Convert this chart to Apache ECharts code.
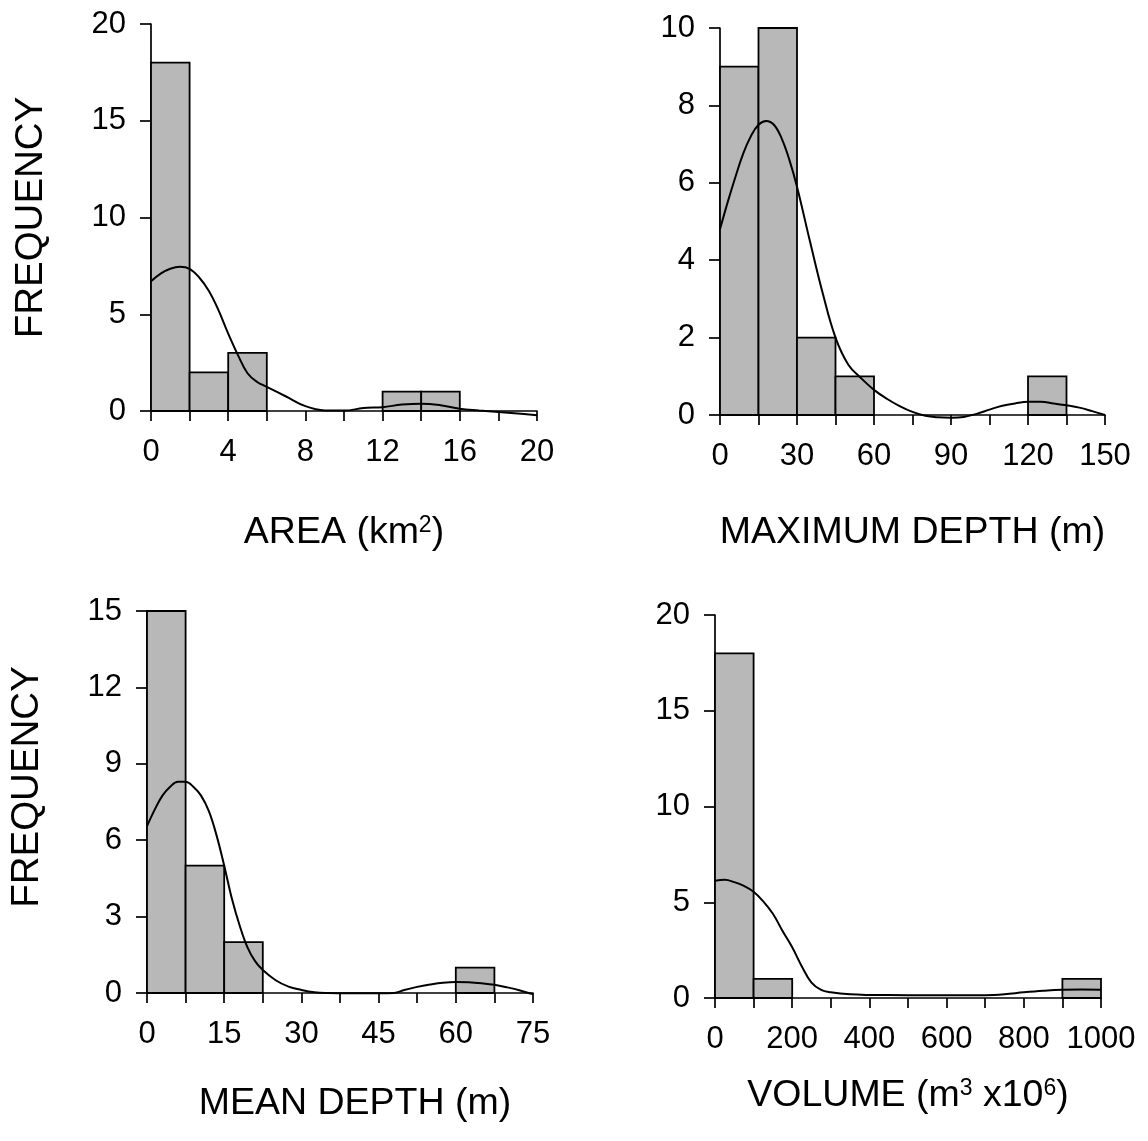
<!DOCTYPE html>
<html>
<head>
<meta charset="utf-8">
<script src="https://cdn.jsdelivr.net/npm/echarts@6/dist/echarts.min.js"></script>
<style>
html,body{margin:0;padding:0;background:#fff;}
#chart{width:1148px;height:1141px;}
</style>
</head>
<body>
<div id="chart"></div>
<script>
// ---------- DATA ----------
// Histogram counts per bin (bins start at 0)
const areaBinWidth = 2;
const areaCounts = [18, 2, 3, 0, 0, 0, 1, 1, 0, 0];
const maxDepthBinWidth = 15;
const maxDepthCounts = [9, 10, 2, 1, 0, 0, 0, 0, 1, 0];
const meanDepthBinWidth = 7.5;
const meanDepthCounts = [15, 5, 2, 0, 0, 0, 0, 0, 1, 0];
const volumeBinWidth = 100;
const volumeCounts = [18, 1, 0, 0, 0, 0, 0, 0, 0, 1];

// Fitted density curves
const areaCurveX = [0, 0.5, 1, 1.5, 2, 2.5, 3, 3.5, 4, 4.5, 5, 5.5, 6, 7, 8, 9, 10, 11, 12, 13, 14, 15, 16, 17, 18, 19, 20];
const areaCurveY = [6.7, 7.1, 7.35, 7.45, 7.35, 6.9, 6.2, 5.2, 4.0, 2.9, 1.95, 1.5, 1.25, 0.75, 0.25, 0.03, 0.02, 0.15, 0.2, 0.33, 0.38, 0.3, 0.12, 0.03, -0.05, -0.13, -0.22];

const maxDepthCurveX = [0, 3, 6, 9, 12, 15, 18, 21, 24, 27, 30, 35, 40, 45, 50, 55, 60, 65, 70, 75, 80, 85, 90, 95, 100, 105, 110, 115, 120, 125, 130, 135, 140, 145, 150];
const maxDepthCurveY = [4.8, 5.5, 6.15, 6.75, 7.2, 7.5, 7.6, 7.5, 7.15, 6.6, 5.9, 4.5, 3.15, 2.0, 1.3, 0.95, 0.65, 0.42, 0.23, 0.08, -0.02, -0.06, -0.07, -0.05, 0.03, 0.14, 0.24, 0.3, 0.34, 0.34, 0.3, 0.25, 0.19, 0.1, 0];

const meanDepthCurveX = [0, 1.5, 3, 4.5, 6, 7.5, 9, 10.5, 12, 13.5, 15, 16.5, 18, 19.5, 21, 22.5, 25, 27.5, 30, 32.5, 35, 40, 45, 48, 50, 52.5, 55, 57.5, 60, 62.5, 65, 67.5, 70, 72.5, 75];
const meanDepthCurveY = [6.55, 7.2, 7.75, 8.1, 8.3, 8.3, 8.1, 7.75, 7.15, 6.2, 5.0, 3.7, 2.65, 1.8, 1.25, 0.9, 0.5, 0.25, 0.12, 0.03, 0, -0.01, -0.01, 0, 0.12, 0.24, 0.33, 0.4, 0.43, 0.42, 0.38, 0.32, 0.22, 0.1, -0.05];

const volumeCurveX = [0, 25, 50, 75, 100, 125, 150, 175, 200, 225, 250, 275, 300, 350, 400, 500, 600, 700, 750, 800, 850, 900, 950, 1000];
const volumeCurveY = [6.12, 6.17, 6.05, 5.85, 5.55, 5.05, 4.4, 3.5, 2.65, 1.65, 0.8, 0.42, 0.3, 0.19, 0.16, 0.15, 0.14, 0.15, 0.2, 0.3, 0.38, 0.43, 0.44, 0.43];

// Axis ranges and labelled ticks
const areaXLabels = [0, 4, 8, 12, 16, 20];
const maxDepthXLabels = [0, 30, 60, 90, 120, 150];
const meanDepthXLabels = [0, 15, 30, 45, 60, 75];
const volumeXLabels = [0, 200, 400, 600, 800, 1000];
const areaYTicks = [0, 5, 10, 15, 20];
const maxDepthYTicks = [0, 2, 4, 6, 8, 10];
const meanDepthYTicks = [0, 3, 6, 9, 12, 15];
const volumeYTicks = [0, 5, 10, 15, 20];

const xNames = ['AREA (km{sup|2})', 'MAXIMUM DEPTH (m)', 'MEAN DEPTH (m)', 'VOLUME (m{sup|3} x10{sup|6})'];
const yName = 'FREQUENCY';

// ---------- BUILD ----------
const FONT = "'Liberation Sans', Arial, sans-serif";
const panels = [
  {counts: areaCounts, bw: areaBinWidth, cx: areaCurveX, cy: areaCurveY, xl: areaXLabels, yt: areaYTicks,
   grid: {left: 151, top: 24, width: 386, height: 387}, nameGap: 103, namePad: [0,0,0,0], yname: true, yPad: [0,0,0,0]},
  {counts: maxDepthCounts, bw: maxDepthBinWidth, cx: maxDepthCurveX, cy: maxDepthCurveY, xl: maxDepthXLabels, yt: maxDepthYTicks,
   grid: {left: 720, top: 28, width: 385, height: 387}, nameGap: 99, namePad: [0,0,0,0], yname: false},
  {counts: meanDepthCounts, bw: meanDepthBinWidth, cx: meanDepthCurveX, cy: meanDepthCurveY, xl: meanDepthXLabels, yt: meanDepthYTicks,
   grid: {left: 147, top: 611, width: 386, height: 382}, nameGap: 92, namePad: [0,0,0,30], yname: true, yPad: [0,0,0,30]},
  {counts: volumeCounts, bw: volumeBinWidth, cx: volumeCurveX, cy: volumeCurveY, xl: volumeXLabels, yt: volumeYTicks,
   grid: {left: 715, top: 615, width: 386, height: 383}, nameGap: 79, namePad: [0,0,0,0], yname: false}
];

const axisLine = {show: true, onZero: false, lineStyle: {color: '#000', width: 1.7}};
const grids = [], xAxes = [], yAxes = [], series = [];

panels.forEach((p, i) => {
  grids.push(Object.assign({outerBoundsMode: 'none', containLabel: false}, p.grid));
  const xmax = p.bw * p.counts.length;
  const labelSet = p.xl;
  xAxes.push({
    type: 'value', gridIndex: i, min: 0, max: xmax, interval: p.bw,
    name: xNames[i], nameLocation: 'middle', nameGap: p.nameGap,
    nameTextStyle: {fontFamily: FONT, fontSize: 37.5, color: '#000', padding: p.namePad,
      rich: {sup: {fontFamily: FONT, fontSize: 23, color: '#000', verticalAlign: 'top'}}},
    axisLine: axisLine,
    axisTick: {show: true, length: 10, lineStyle: {color: '#000', width: 1.7}},
    axisLabel: {
      margin: 26, fontFamily: FONT, fontSize: 31, color: '#000',
      showMinLabel: true, showMaxLabel: true,
      formatter: v => labelSet.some(l => Math.abs(l - v) < 1e-6) ? String(Math.round(v)) : ''
    },
    splitLine: {show: false}
  });
  const yt = p.yt;
  yAxes.push({
    type: 'value', gridIndex: i, min: 0, max: yt[yt.length - 1], interval: yt[1] - yt[0],
    name: p.yname ? yName : '', nameLocation: 'middle', nameRotate: 90, nameGap: 100,
    nameTextStyle: {fontFamily: FONT, fontSize: 38.5, color: '#000', padding: p.yPad || [0,0,0,0]},
    axisLine: axisLine,
    axisTick: {show: true, length: 11, lineStyle: {color: '#000', width: 1.7}},
    axisLabel: {margin: 25, fontFamily: FONT, fontSize: 31, color: '#000'},
    splitLine: {show: false}
  });
  const barData = [];
  p.counts.forEach((c, k) => { if (c > 0) barData.push([k * p.bw, (k + 1) * p.bw, c]); });
  series.push({
    type: 'custom', xAxisIndex: i, yAxisIndex: i, z: 1, silent: true,
    data: barData,
    encode: {x: [0, 1], y: 2},
    renderItem: (params, api) => {
      const a = api.coord([api.value(0), api.value(2)]);
      const b = api.coord([api.value(1), 0]);
      return {
        type: 'rect',
        shape: {x: a[0], y: a[1], width: b[0] - a[0], height: b[1] - a[1]},
        style: {fill: '#b8b8b8', stroke: '#000', lineWidth: 1.8}
      };
    }
  });
  series.push({
    type: 'line', xAxisIndex: i, yAxisIndex: i, z: 3, smooth: 0.4, clip: false,
    symbol: 'none', silent: true,
    lineStyle: {color: '#000', width: 2},
    data: p.cx.map((x, k) => [x, p.cy[k]])
  });
});

const chart = echarts.init(document.getElementById('chart'), null, {renderer: 'canvas'});
chart.setOption({
  animation: false,
  backgroundColor: '#fff',
  grid: grids, xAxis: xAxes, yAxis: yAxes, series: series
});
</script>
</body>
</html>
